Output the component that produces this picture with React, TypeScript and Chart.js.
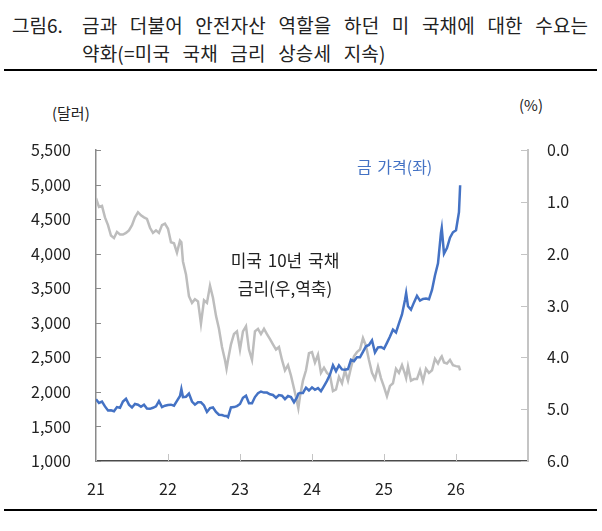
import { useEffect, useRef } from "react";
import { Chart, registerables } from "chart.js";

Chart.register(...registerables);

// semi-monthly observations (plus a few peak days)
const dates: string[] = [
  "2021-01-01", "2021-01-16", "2021-02-01", "2021-02-16", "2021-03-01", "2021-03-16", "2021-04-01", "2021-04-16",
  "2021-05-01", "2021-05-16", "2021-06-01", "2021-06-16", "2021-07-01", "2021-07-16", "2021-08-01", "2021-08-16",
  "2021-09-01", "2021-09-16", "2021-10-01", "2021-10-16", "2021-11-01", "2021-11-16", "2021-12-01", "2021-12-16",
  "2022-01-01", "2022-01-16", "2022-02-01", "2022-02-16", "2022-03-01", "2022-03-08", "2022-03-16", "2022-04-01",
  "2022-04-16", "2022-05-01", "2022-05-16", "2022-06-01", "2022-06-16", "2022-07-01", "2022-07-16", "2022-08-01",
  "2022-08-16", "2022-09-01", "2022-09-16", "2022-10-01", "2022-10-16", "2022-10-24", "2022-11-01", "2022-11-16",
  "2022-12-01", "2022-12-16",
  "2023-01-01", "2023-01-16", "2023-02-01", "2023-02-16", "2023-03-01", "2023-03-16", "2023-04-01", "2023-04-16",
  "2023-05-01", "2023-05-16", "2023-06-01", "2023-06-16", "2023-07-01", "2023-07-16", "2023-08-01", "2023-08-16",
  "2023-09-01", "2023-09-16", "2023-10-01", "2023-10-16", "2023-10-23", "2023-11-01", "2023-11-16", "2023-12-01",
  "2023-12-16",
  "2024-01-01", "2024-01-16", "2024-02-01", "2024-02-16", "2024-03-01", "2024-03-16", "2024-04-01", "2024-04-16",
  "2024-05-01", "2024-05-16", "2024-06-01", "2024-06-16", "2024-07-01", "2024-07-16", "2024-08-01", "2024-08-16",
  "2024-09-01", "2024-09-16", "2024-10-01", "2024-10-16", "2024-11-01", "2024-11-16", "2024-12-01", "2024-12-16",
  "2025-01-01", "2025-01-16", "2025-02-01", "2025-02-16", "2025-03-01", "2025-03-16", "2025-04-01", "2025-04-16",
  "2025-04-22", "2025-05-01", "2025-05-16", "2025-06-01", "2025-06-16", "2025-07-01", "2025-07-16", "2025-08-01",
  "2025-08-16", "2025-09-01", "2025-09-16", "2025-10-01", "2025-10-16", "2025-10-20", "2025-11-01", "2025-11-16",
  "2025-12-01", "2025-12-16",
  "2026-01-01", "2026-01-16", "2026-01-22",
];

// 금 가격 (달러)
const goldPrice: number[] = [
  1895, 1840, 1860, 1790, 1730, 1735, 1720, 1780, 1770, 1860, 1900, 1815, 1775, 1825, 1815, 1785,
  1815, 1760, 1755, 1770, 1790, 1865, 1780, 1800,
  1810, 1815, 1800, 1870, 1940, 2040, 1925, 1930, 1975, 1860, 1815, 1850, 1850, 1805, 1710, 1765,
  1775, 1710, 1670, 1665, 1650, 1650, 1635, 1775, 1780, 1795,
  1825, 1915, 1945, 1835, 1835, 1925, 1980, 2005, 1990, 1990, 1965, 1955, 1915, 1955, 1945, 1895,
  1940, 1925, 1850, 1920, 1975, 1985, 1985, 2060, 2020,
  2065, 2030, 2055, 2010, 2085, 2160, 2250, 2385, 2300, 2385, 2325, 2320, 2330, 2465, 2445, 2500,
  2500, 2580, 2660, 2680, 2745, 2570, 2645, 2650,
  2625, 2710, 2800, 2900, 2860, 2990, 3120, 3330, 3430, 3240, 3190, 3295, 3390, 3320, 3345, 3350,
  3340, 3475, 3685, 3860, 4300, 4370, 4000, 4080, 4230, 4310,
  4340, 4600, 4990,
];

// 미국 10년 국채 금리 (%)
const treasuryYield: number[] = [
  0.93, 1.10, 1.08, 1.30, 1.45, 1.65, 1.70, 1.58, 1.63, 1.63, 1.60, 1.55, 1.45, 1.30, 1.20, 1.26,
  1.30, 1.33, 1.50, 1.60, 1.55, 1.60, 1.45, 1.42,
  1.52, 1.78, 1.80, 1.98, 1.75, 1.78, 2.15, 2.40, 2.82, 2.95, 2.88, 2.92, 3.35, 2.90, 2.95, 2.62,
  2.85, 3.20, 3.45, 3.80, 4.05, 4.22, 4.05, 3.75, 3.55, 3.50,
  3.85, 3.50, 3.40, 3.85, 4.05, 3.50, 3.45, 3.55, 3.45, 3.55, 3.65, 3.75, 3.85, 3.80, 4.05, 4.25,
  4.15, 4.35, 4.60, 4.85, 4.98, 4.75, 4.45, 4.25, 3.92,
  3.90, 4.10, 3.95, 4.30, 4.20, 4.30, 4.35, 4.65, 4.62, 4.38, 4.50, 4.25, 4.45, 4.20, 3.98, 3.90,
  3.85, 3.63, 3.78, 4.05, 4.30, 4.42, 4.18, 4.40,
  4.57, 4.75, 4.55, 4.50, 4.22, 4.30, 4.15, 4.32, 4.40, 4.18, 4.45, 4.42, 4.42, 4.25, 4.46, 4.22,
  4.30, 4.25, 4.03, 4.12, 4.00, 3.98, 4.10, 4.12, 4.05, 4.15,
  4.17, 4.18, 4.25,
];

const yearTicks = [2021, 2022, 2023, 2024, 2025, 2026, 2027];

const FONT = "'Noto Sans CJK KR', 'Noto Sans', sans-serif";
const BLUE = "#4472C4";
const GRAY = "#BDBDBD";

function toYear(d: string): number {
  const [y, m, day] = d.split("-").map(Number);
  return y + (m - 1) / 12 + (day - 1) / 365;
}

// tick marks drawn inward, as in the original
const innerTicks = {
  id: "innerTicks",
  afterDraw(chart: any) {
    const { ctx, chartArea, scales } = chart;
    ctx.save();
    ctx.lineWidth = 1;

    ctx.strokeStyle = "#8a8a8a";
    scales.yLeft.ticks.forEach((t: any) => {
      const y = Math.round(scales.yLeft.getPixelForValue(t.value)) + 0.5;
      ctx.beginPath();
      ctx.moveTo(chartArea.left, y);
      ctx.lineTo(chartArea.left + 5, y);
      ctx.stroke();
    });

    ctx.strokeStyle = "#c4c4c4";
    scales.yRight.ticks.forEach((t: any) => {
      const y = Math.round(scales.yRight.getPixelForValue(t.value)) + 0.5;
      ctx.beginPath();
      ctx.moveTo(chartArea.right, y);
      ctx.lineTo(chartArea.right - 7, y);
      ctx.stroke();
    });

    ctx.strokeStyle = "#c4c4c4";
    yearTicks.forEach((v) => {
      const x = Math.round(scales.x.getPixelForValue(v)) + 0.5;
      ctx.beginPath();
      ctx.moveTo(x, chartArea.bottom);
      ctx.lineTo(x, chartArea.bottom - 7);
      ctx.stroke();
    });
    ctx.restore();
  },
};

function GoldChart() {
  const canvasRef = useRef<HTMLCanvasElement | null>(null);
  const chartRef = useRef<Chart | null>(null);

  useEffect(() => {
    if (!canvasRef.current) return;
    if (chartRef.current) chartRef.current.destroy();

    const xs = dates.map(toYear);

    chartRef.current = new Chart(canvasRef.current, {
      type: "line",
      data: {
        datasets: [
          {
            label: "금 가격(좌)",
            data: xs.map((x, i) => ({ x, y: goldPrice[i] })),
            yAxisID: "yLeft",
            borderColor: BLUE,
            borderWidth: 2.5,
            pointRadius: 0,
            tension: 0,
            order: 0,
          },
          {
            label: "미국 10년 국채 금리(우,역축)",
            data: xs.map((x, i) => ({ x, y: treasuryYield[i] })),
            yAxisID: "yRight",
            borderColor: GRAY,
            borderWidth: 2.5,
            pointRadius: 0,
            tension: 0,
            order: 1,
          },
        ],
      },
      options: {
        animation: false,
        responsive: false,
        maintainAspectRatio: false,
        layout: { padding: { top: 60, left: 0, right: 0, bottom: 0 } },
        plugins: {
          legend: { display: false },
          tooltip: { enabled: false },
        },
        scales: {
          x: {
            type: "linear",
            min: 2021,
            max: 2027,
            afterBuildTicks: (axis: any) => {
              axis.ticks = yearTicks.map((v) => ({ value: v }));
            },
            afterFit: (axis: any) => {
              axis.height = 40;
            },
            grid: { display: false, drawTicks: false },
            border: { display: true, color: "#4a4a4a", width: 1.5 },
            ticks: {
              padding: 18,
              color: "#222",
              font: { family: FONT, size: 16 },
              maxRotation: 0,
              callback: (v: any) => (v === 2027 ? "" : String(v - 2000)),
            },
          },
          yLeft: {
            type: "linear",
            position: "left",
            min: 1000,
            max: 5500,
            afterFit: (axis: any) => {
              axis.width = 96;
            },
            grid: { display: false, drawTicks: false },
            border: { display: true, color: "#8a8a8a", width: 1.5 },
            ticks: {
              stepSize: 500,
              padding: 25,
              color: "#222",
              font: { family: FONT, size: 16 },
              callback: (v: any) => Number(v).toLocaleString("en-US"),
            },
          },
          yRight: {
            type: "linear",
            position: "right",
            min: 0,
            max: 6,
            reverse: true,
            afterFit: (axis: any) => {
              axis.width = 74;
            },
            grid: { display: false, drawTicks: false },
            border: { display: true, color: "#c4c4c4", width: 2 },
            ticks: {
              stepSize: 1,
              padding: 19,
              color: "#222",
              font: { family: FONT, size: 16 },
              callback: (v: any) => Number(v).toFixed(1),
            },
          },
        },
      },
      plugins: [innerTicks],
    });

    return () => {
      chartRef.current?.destroy();
      chartRef.current = null;
    };
  }, []);

  return (
    <canvas
      ref={canvasRef}
      width={602}
      height={411}
      style={{ position: "absolute", left: 0, top: 90, width: 602, height: 411 }}
    />
  );
}

export default function App() {
  const text = { position: "absolute" as const, fontFamily: FONT, color: "#222", whiteSpace: "nowrap" as const };
  const title = { ...text, fontSize: 19, lineHeight: "28px", wordSpacing: 8, letterSpacing: 0.2 };

  return (
    <div style={{ position: "absolute", left: 0, top: 0, width: 602, height: 531, background: "#fff" }}>
      <div style={{ ...text, left: 12, top: 11, fontSize: 19, lineHeight: "28px" }}>그림6.</div>
      <div style={{ ...title, left: 82, top: 11 }}>
        금과 더불어 안전자산 역할을 하던 미 국채에 대한 수요는
      </div>
      <div style={{ ...title, left: 82, top: 39 }}>
        약화(=미국 국채 금리 상승세 지속)
      </div>
      <div style={{ position: "absolute", left: 4, top: 69, width: 593, height: 2, background: "#000" }} />

      <div style={{ ...text, left: 52, top: 102, fontSize: 15, lineHeight: "22px" }}>(달러)</div>
      <div style={{ ...text, left: 519, top: 94, fontSize: 15, lineHeight: "22px" }}>(%)</div>

      <GoldChart />

      <div style={{ ...text, left: 357, top: 155, fontSize: 16, lineHeight: "22px", color: BLUE, wordSpacing: 2 }}>
        금 가격(좌)
      </div>
      <div style={{ ...text, left: 185, width: 200, textAlign: "center", top: 248, fontSize: 17, lineHeight: "24px", wordSpacing: 2 }}>
        미국 10년 국채
      </div>
      <div style={{ ...text, left: 185, width: 200, textAlign: "center", top: 276, fontSize: 17, lineHeight: "24px" }}>
        금리(우,역축)
      </div>

      <div style={{ position: "absolute", left: 4, top: 509, width: 593, height: 2, background: "#000" }} />
    </div>
  );
}
